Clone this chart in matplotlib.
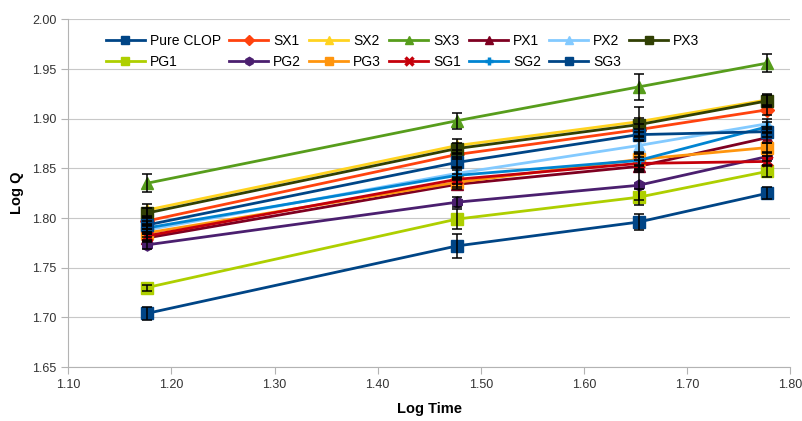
import numpy as np
import matplotlib
matplotlib.use("Agg")
import matplotlib.pyplot as plt

plt.rcParams['font.family'] = ['Liberation Sans', 'DejaVu Sans']

log_time = [1.176, 1.477, 1.653, 1.778]

series_names = ["Pure CLOP", "SX1", "SX2", "SX3", "PX1", "PX2", "PX3",
                "PG1", "PG2", "PG3", "SG1", "SG2", "SG3"]

pure_clop = [1.704, 1.772, 1.796, 1.825]
sx1 = [1.797, 1.864, 1.889, 1.909]
sx2 = [1.808, 1.873, 1.897, 1.919]
sx3 = [1.835, 1.898, 1.932, 1.956]
px1 = [1.780, 1.834, 1.852, 1.881]
px2 = [1.788, 1.845, 1.873, 1.895]
px3 = [1.805, 1.870, 1.894, 1.918]
pg1 = [1.730, 1.799, 1.821, 1.847]
pg2 = [1.773, 1.816, 1.833, 1.862]
pg3 = [1.785, 1.836, 1.859, 1.871]
sg1 = [1.782, 1.839, 1.855, 1.857]
sg2 = [1.790, 1.843, 1.858, 1.892]
sg3 = [1.793, 1.856, 1.884, 1.887]

err_pure = [0.007, 0.012, 0.008, 0.006]
err_sx1 = [0.004, 0.005, 0.006, 0.005]
err_sx2 = [0.006, 0.007, 0.015, 0.006]
err_sx3 = [0.009, 0.008, 0.013, 0.009]
err_px1 = [0.004, 0.005, 0.006, 0.005]
err_px2 = [0.004, 0.005, 0.006, 0.005]
err_px3 = [0.005, 0.006, 0.007, 0.006]
err_pg1 = [0.003, 0.010, 0.008, 0.006]
err_pg2 = [0.004, 0.005, 0.015, 0.005]
err_pg3 = [0.004, 0.005, 0.006, 0.005]
err_sg1 = [0.004, 0.005, 0.006, 0.005]
err_sg2 = [0.004, 0.005, 0.006, 0.005]
err_sg3 = [0.004, 0.005, 0.006, 0.005]

values = [pure_clop, sx1, sx2, sx3, px1, px2, px3, pg1, pg2, pg3, sg1, sg2, sg3]
errors = [err_pure, err_sx1, err_sx2, err_sx3, err_px1, err_px2, err_px3,
          err_pg1, err_pg2, err_pg3, err_sg1, err_sg2, err_sg3]

colors = ["#004586", "#ff420e", "#ffd320", "#579d1c", "#7e0021", "#83caff",
          "#314004", "#aecf00", "#4b1f6f", "#ff950e", "#c5000b", "#0084d1",
          "#004586"]
markers = ["s", "D", "^", "^", "^", "^", "s", "s", "h", "s", "x", "+", "s"]
msizes = [8, 7, 8, 8, 8, 8, 8, 8, 8, 8, 7, 7, 8]

fig = plt.figure(figsize=(8.03, 4.21), dpi=100)
ax = fig.add_axes([0.085, 0.128, 0.899, 0.826])

handles = []
for name, vals, errs, c, m, ms in zip(series_names, values, errors, colors, markers, msizes):
    ax.errorbar(log_time, vals, yerr=errs, fmt='none', ecolor='black',
                elinewidth=1.1, capsize=3.5, capthick=1.1, zorder=5)
    mew = 2.5 if m in ("x", "+") else 1
    ln, = ax.plot(log_time, vals, color=c, lw=2.0, marker=m, markersize=ms,
                  markeredgecolor=c, markeredgewidth=mew, zorder=3, label=name)
    handles.append(ln)

ax.set_xlim(1.10, 1.80)
ax.set_ylim(1.65, 2.00)
ax.set_xticks(np.arange(1.10, 1.801, 0.10))
ax.set_yticks(np.arange(1.65, 2.001, 0.05))
ax.xaxis.set_major_formatter(matplotlib.ticker.FormatStrFormatter('%.2f'))
ax.yaxis.set_major_formatter(matplotlib.ticker.FormatStrFormatter('%.2f'))
ax.grid(axis='y', color='#c8c8c8', lw=0.8)
ax.set_axisbelow(True)
for s in ['top', 'right']:
    ax.spines[s].set_visible(False)
for s in ['left', 'bottom']:
    ax.spines[s].set_color('#b3b3b3')
ax.tick_params(axis='both', colors='#b3b3b3', labelcolor='#333333',
               labelsize=9, length=5, direction='out')
ax.set_xlabel("Log Time", fontsize=10.5, fontweight='bold', labelpad=8)
ax.set_ylabel("Log Q", fontsize=10.5, fontweight='bold', labelpad=6)

# legend filled row by row (matplotlib fills column-wise)
order = [0, 7, 1, 8, 2, 9, 3, 10, 4, 11, 5, 12, 6]
leg = ax.legend(handles=[handles[i] for i in order], loc='upper left',
                bbox_to_anchor=(0.035, 0.995), ncol=7, frameon=False,
                fontsize=10, handlelength=2.8, markerscale=0.75,
                columnspacing=0.6, handletextpad=0.35, labelspacing=0.55)

fig.savefig("out.png", dpi=100)
